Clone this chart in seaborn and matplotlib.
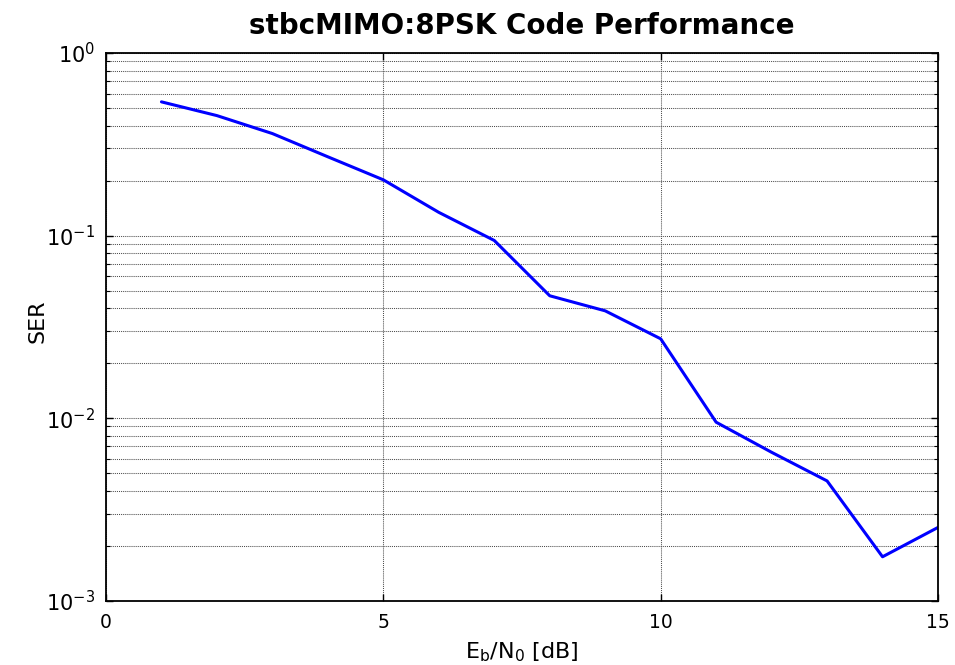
import matplotlib
matplotlib.use("Agg")
import matplotlib.pyplot as plt
import matplotlib.ticker as mticker
import seaborn as sns
import pandas as pd
import numpy as np

ebn0_db = [1, 2, 3, 4, 5, 6, 7, 8, 9, 10, 11, 12, 13, 14, 15]
ser = [0.54, 0.454, 0.362, 0.27, 0.202, 0.134, 0.094, 0.0468, 0.0387, 0.0272,
       0.0095, 0.0065, 0.00453, 0.00174, 0.00252]
x_ticks = [0, 5, 10, 15]
title_text = "stbcMIMO:8PSK Code Performance"

sns.set_style("white")
plt.rcParams['font.family'] = ['DejaVu Sans']
plt.rcParams['mathtext.default'] = 'regular'
plt.rcParams['text.color'] = 'black'
plt.rcParams['axes.labelcolor'] = 'black'
plt.rcParams['xtick.color'] = 'black'
plt.rcParams['ytick.color'] = 'black'

df = pd.DataFrame({"ebn0": ebn0_db, "ser": ser})

fig = plt.figure(figsize=(9.55, 6.65), dpi=100)
ax = fig.add_axes([106 / 955, 1 - 600.7 / 665, (938 - 106) / 955, (600.7 - 53) / 665])

sns.lineplot(data=df, x="ebn0", y="ser", ax=ax, color="#0000ff", linewidth=2.2)
ax.set_yscale("log")
ax.set_xlim(0, 15)
ax.set_ylim(1e-3, 1e0)
ax.set_xticks(x_ticks)
ax.set_xticklabels([str(t) for t in x_ticks])
ax.yaxis.set_major_locator(mticker.LogLocator(base=10, numticks=10))
ax.yaxis.set_minor_locator(mticker.LogLocator(base=10, subs=np.arange(2, 10), numticks=10))
ax.yaxis.set_minor_formatter(mticker.NullFormatter())

ax.grid(True, which="major", axis="both", color="0.3", linestyle=(0, (1, 1)), linewidth=0.75)
ax.grid(True, which="minor", axis="y", color="0.3", linestyle=(0, (1, 1)), linewidth=0.75)

ax.tick_params(axis="both", which="major", direction="in", length=5, width=1,
               top=True, right=True, bottom=True, left=True, color="black")
ax.tick_params(axis="y", which="minor", direction="in", length=3, width=0.8,
               left=True, right=True, color="black")
ax.tick_params(axis="y", which="major", labelsize=15, pad=8)
ax.tick_params(axis="x", which="major", labelsize=13.5, pad=9)

for s in ax.spines.values():
    s.set_visible(True)
    s.set_color("black")
    s.set_linewidth(1.3)

ax.set_xlabel("$E_b/N_0$ [dB]", fontsize=16, labelpad=6, color="black")
ax.set_ylabel("SER", fontsize=16, color="black")
ax.yaxis.set_label_coords(-0.0709, 0.51)
ax.set_title(title_text, fontsize=20, fontweight="bold", pad=14, color="black")

fig.savefig("out.png", dpi=100, facecolor="white")
